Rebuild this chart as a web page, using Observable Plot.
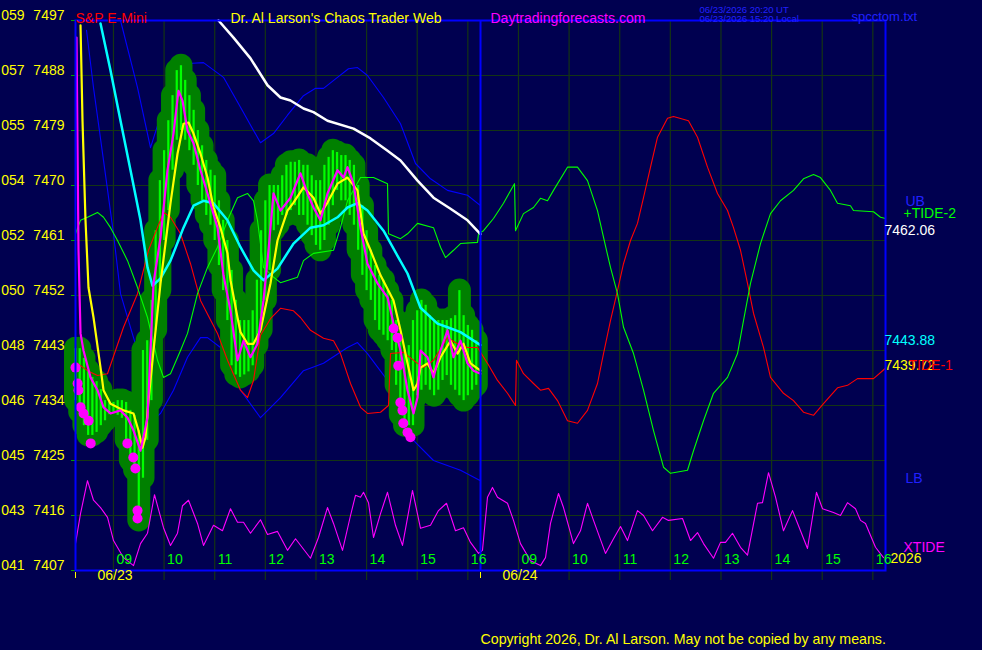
<!DOCTYPE html>
<html>
<head>
<meta charset="utf-8">
<script src="https://cdn.jsdelivr.net/npm/d3@7"></script>
<script src="https://cdn.jsdelivr.net/npm/@observablehq/plot@0.6"></script>
<style>
  html, body { margin: 0; padding: 0; background: #000050; }
  #chart svg { display: block; }
</style>
</head>
<body>
<div id="chart"></div>
<script>
// x is the 5-minute bar number from the 08:15 open of 06/23 (96 bars a day)
const openHour = 8.25, barsPerHour = 12, barsPerDay = 96, nowBar = 96

const priceTicks = [7407, 7416, 7425, 7434, 7443, 7452, 7461, 7470, 7479, 7488, 7497]
const leftCodes = ["041", "043", "045", "046", "048", "050", "052", "054", "055", "057", "059"]
const hourNums = [9, 10, 11, 12, 13, 14, 15, 16]
const hourLabels = ["09", "10", "11", "12", "13", "14", "15", "16"]
const dayLabels = ["06/23", "06/24"]

// price bars 06/23
const barHi = [7443.3,7443.3,7441.7,7439.7,7438.6,7437.9,7436.6,7434.8,7434.5,7434.5,7434.8,7434.8,7434.5,7433.2,7432.4,7429.9,
  7443.0,7444.6,7451.2,7462.6,7470.8,7475.7,7480.6,7484.7,7488.8,7489.6,7487.2,7484.7,7482.3,7479.0,7476.5,7474.1,7472.5,7471.6,
  7467.5,7464.3,7461.0,7456.1,7451.2,7447.9,7447.9,7447.9,7449.5,7454.5,7462.6,7467.5,7470.0,7470.0,7470.0,7471.6,
  7473.3,7473.8,7473.8,7474.1,7473.3,7473.3,7471.6,7470.8,7470.8,7473.3,7474.6,7475.7,7475.4,7474.9,7474.9,7474.1,7473.3,
  7470.0,7466.7,7462.6,7459.4,7456.9,7455.3,7454.5,7452.8,7451.2,7447.9,7444.6,7443.0,7443.8,
  7447.9,7449.5,7451.2,7450.4,7448.7,7447.9,7447.9,7447.9,7447.9,7448.2,7448.7,7452.8,7448.7,7447.1,7446.3,7444.6]
const barLo = [7434.8,7432.9,7430.7,7429.1,7429.1,7429.6,7430.7,7431.5,7432.5,7432.9,7432.4,7431.9,7428.3,7425.0,7423.4,7415.2,
  7422.1,7428.3,7434.8,7446.3,7452.8,7461.0,7465.9,7472.5,7477.4,7479.0,7477.4,7475.7,7473.3,7470.0,7467.5,7465.1,7463.5,7461.0,
  7456.9,7452.8,7447.9,7440.5,7439.0,7438.6,7439.0,7439.5,7440.5,7443.8,7446.3,7451.2,7456.1,7462.6,7463.5,7465.1,
  7465.1,7465.9,7466.7,7465.1,7465.1,7463.5,7461.8,7460.2,7459.4,7461.0,7463.5,7466.7,7469.2,7467.5,7467.5,7465.1,7463.5,
  7459.4,7455.3,7452.8,7451.2,7447.9,7446.3,7445.5,7444.6,7443.0,7437.3,7432.4,7430.7,7430.7,
  7430.7,7435.6,7436.5,7437.3,7436.5,7435.6,7436.5,7438.1,7438.9,7437.3,7436.5,7435.6,7434.8,7435.6,7436.5,7437.3]

// magenta signal dots
const sigBar = [0,0.5,0.7,1.2,1.9,3.1,3.6,12.3,13.7,14.2,14.7,14.7,75.4,76.3,76.5,77.0,77.5,77.7,78.7,79.4]
const sigPrice = [7440.2,7437.6,7436.5,7433.7,7432.7,7431.5,7427.8,7427.8,7425.5,7423.7,7416.8,7415.5,7446.6,7445.1,7440.5,7434.5,7433.2,7431.1,7429.6,7428.8]

// fast average (magenta)
const fastX = [0.24,0.71,1.19,1.90,3.56,5.21,6.64,8.30,10.67,12.33,13.75,15.41,17.07,17.78,18.49,20.15,21.81,23.23,24.41,25.36,
  26.55,27.97,29.63,31.29,33.66,35.08,36.74,38.40,39.82,41.48,43.14,44.56,45.75,46.93,48.59,50.96,53.33,54.99,56.41,58.07,
  59.73,62.10,63.53,64.47,65.90,67.56,69.21,71.58,73.96,75.38,77.04,78.70,80.12,81.07,81.78,83.44,84.86,86.52,88.18,89.60,
  91.26,92.92,94.34,96]
const fastY = [7494.2,7459.4,7445.8,7443.0,7438.6,7436.5,7433.7,7432.7,7433.2,7432.0,7429.9,7426.6,7432.0,7443.0,7454.0,7461.5,
  7472.5,7478.5,7485.5,7483.9,7479.0,7476.9,7472.5,7468.7,7463.1,7455.3,7449.5,7441.4,7444.6,7441.9,7444.1,7451.2,7459.4,7468.7,
  7465.9,7468.0,7472.0,7468.7,7466.4,7464.3,7468.7,7472.5,7471.3,7473.0,7470.3,7463.1,7457.2,7454.0,7451.7,7447.4,7443.0,7436.5,
  7432.7,7435.3,7443.0,7441.9,7438.6,7443.0,7446.3,7441.9,7444.6,7440.9,7439.7,7439.2]

// medium average (yellow)
const midX = [1.19,1.66,2.37,3.08,4.27,5.93,6.64,8.30,11.38,13.75,14.93,15.88,16.59,17.30,18.49,20.15,22.52,24.18,25.60,26.79,
  27.97,29.63,31.29,32.71,34.37,36.03,36.74,38.40,39.11,40.77,42.19,43.85,46.22,47.88,50.25,51.67,54.04,56.41,58.07,59.73,
  62.10,64.47,66.84,68.27,69.93,72.30,75.38,77.04,78.70,80.12,81.07,81.78,83.44,84.86,86.52,88.89,90.55,91.97,93.63,96]
const midY = [7496.2,7480.6,7464.3,7453.3,7448.4,7440.2,7436.5,7434.3,7433.2,7432.7,7429.9,7427.1,7428.8,7434.8,7443.0,7454.0,
  7467.1,7475.2,7480.1,7480.3,7478.5,7475.2,7471.3,7466.4,7463.1,7458.9,7454.5,7448.4,7446.0,7444.1,7444.1,7446.3,7454.0,7461.0,
  7465.9,7467.2,7469.7,7468.0,7465.4,7467.2,7470.3,7471.3,7469.2,7462.1,7459.4,7455.3,7451.2,7446.3,7440.9,7436.5,7437.6,7440.2,
  7440.9,7439.2,7441.9,7444.6,7442.5,7444.1,7440.9,7439.72]

// slow average (cyan)
const slowX = [5.93,8.30,10.67,13.04,15.41,17.07,18.25,20.15,22.52,25.60,27.97,30.34,32.71,36.03,39.11,42.19,44.56,47.88,51.67,
  55.70,58.79,62.10,64.47,66.84,69.21,73.01,76.33,78.70,81.78,85.81,88.18,91.26,96]
const slowY = [7496.5,7488.8,7480.6,7472.5,7464.3,7456.6,7453.6,7454.8,7457.7,7463.1,7466.7,7467.5,7467.1,7464.3,7459.9,7456.1,
  7454.5,7456.4,7460.5,7463.1,7463.5,7464.8,7466.4,7467.1,7465.9,7462.6,7458.5,7455.6,7450.0,7447.4,7446.8,7446.0,7443.88]

// trend average (white)
const trendX = [33.90,37.45,41.48,45.51,48.59,50.96,54.04,56.41,59.73,65.90,69.93,73.96,77.04,81.07,84.86,88.89,92.92,96]
const trendY = [7497.0,7494.2,7490.8,7486.4,7484.4,7483.9,7482.6,7482.0,7480.6,7479.3,7477.7,7475.7,7474.1,7470.8,7468.0,7466.2,7464.3,7462.06]

// upper and lower bands (blue)
const ubX = [10.67,14.70,17.78,21.33,24.89,27.73,30.34,35.08,39.11,43.85,46.93,50.25,54.04,56.89,58.79,62.10,64.71,66.84,69.21,
  73.01,77.04,80.59,84.15,88.18,92.92,96]
const ubY = [7497.0,7486.0,7476.2,7483.9,7488.5,7490.0,7490.1,7487.7,7482.8,7477.0,7478.5,7481.5,7484.7,7485.9,7485.9,7487.7,
  7489.1,7489.3,7488.0,7484.4,7480.1,7473.6,7471.1,7469.2,7468.4,7466.7]
const lbX = [2.61,4.27,6.64,9.01,10.67,13.75,15.41,18.25,20.15,23.23,26.55,29.63,31.29,34.37,39.11,43.85,48.59,54.04,58.79,
  64.47,66.84,69.21,73.96,80.12,84.86,91.26,96]
const lbY = [7495.4,7486.0,7474.1,7462.1,7452.3,7445.1,7441.4,7431.5,7432.7,7436.5,7441.9,7445.1,7445.1,7443.5,7436.5,7432.0,
  7435.3,7439.7,7440.9,7443.5,7444.3,7442.5,7438.1,7428.3,7425.0,7423.4,7421.7]

// +TIDE-2 (green)
const tide2X = [0,1.19,2.84,5.21,6.64,8.30,9.96,12.33,14.70,17.07,19.44,20.86,22.52,24.89,26.55,28.92,31.29,33.66,36.03,38.40,
  40.77,42.19,43.14,44.56,46.93,48.59,52.62,54.04,56.41,61.16,62.81,64.47,67.56,70.64,73.96,74.19,77.04,78.70,81.07,84.86,
  86.52,87.70,89.60,91.26,95.29,95.53,96.71,99.08,101.45,103.82,104.06,104.30,106.19,108.56,110.22,111.88,113.30,116.62,118.99,121.36,
  123.73,125.16,126.81,128.47,129.90,132.27,134.64,137.01,139.38,141.04,145.07,146.49,148.86,151.23,154.55,156.92,158.34,160.0,162.37,164.74,
  167.11,170.19,172.56,174.93,176.59,178.96,180.62,183.70,184.41,189.16,190.82,192]
const tide2Y = [7462.1,7464.3,7464.8,7465.6,7464.8,7463.1,7461.0,7457.7,7453.3,7448.4,7441.4,7438.6,7439.2,7443.0,7445.8,7452.3,
  7456.6,7459.9,7464.3,7468.0,7468.7,7467.5,7464.3,7456.6,7455.0,7454.1,7455.0,7457.7,7458.9,7459.4,7463.1,7467.5,7471.3,7471.3,
  7470.3,7462.1,7461.3,7462.1,7463.8,7463.1,7459.9,7458.2,7459.4,7460.5,7460.7,7462.1,7462.6,7464.6,7467.1,7470.0,7470.3,7462.6,
  7465.4,7466.4,7467.9,7467.5,7469.2,7473.0,7473.0,7470.8,7465.9,7461.5,7456.6,7452.3,7446.8,7442.5,7436.5,7429.9,7423.9,7422.9,
  7423.4,7426.6,7431.5,7436.0,7438.6,7442.5,7447.9,7454.0,7460.5,7465.4,7467.5,7469.2,7471.1,7471.8,7471.3,7469.2,7467.1,7466.7,
  7465.9,7465.7,7464.8,7464.6]

// TIDE-1 (red)
const tide1X = [0.47,2.84,5.21,7.59,11.38,14.70,17.30,20.86,22.52,24.89,27.26,29.63,33.66,36.03,39.11,40.77,42.19,43.85,46.22,48.59,
  51.67,53.33,55.70,58.79,61.16,62.81,65.19,67.56,69.21,72.30,74.19,74.67,77.75,81.07,82.49,84.86,88.18,90.55,92.92,95.29,
  97.66,100.03,102.40,104.30,104.53,106.19,108.56,110.22,112.12,114.25,116.62,118.99,121.36,123.73,125.16,126.81,128.47,129.90,131.56,133.21,
  134.64,136.30,137.96,140.33,141.75,145.30,147.44,149.81,152.18,154.55,155.97,157.63,159.29,160.71,163.08,164.74,167.82,170.19,172.56,174.93,
  177.30,180.62,182.99,185.36,189.16,192]
const tide1Y = [7440.9,7439.7,7438.9,7439.2,7446.8,7452.3,7459.4,7465.6,7464.8,7462.1,7457.2,7451.2,7445.8,7441.4,7436.5,7435.3,
  7438.1,7445.5,7448.2,7449.9,7449.5,7448.4,7446.3,7445.0,7444.6,7442.5,7437.6,7433.7,7432.7,7432.9,7434.0,7442.5,7442.7,7440.9,
  7440.2,7441.4,7445.1,7444.1,7443.5,7443.5,7440.9,7438.1,7436.0,7434.0,7441.4,7439.2,7437.6,7436.5,7436.8,7434.8,7431.5,7431.1,
  7433.2,7437.6,7442.5,7447.9,7452.8,7457.2,7461.0,7463.8,7468.0,7473.0,7477.9,7481.0,7481.3,7480.6,7477.9,7473.0,7468.7,7465.9,
  7463.1,7459.4,7454.0,7449.1,7443.5,7438.6,7436.0,7434.8,7432.9,7432.4,7434.3,7436.9,7437.3,7438.4,7438.4,7440.1]

// XTIDE (magenta, drawn in the bottom strip)
const xtX = [0,1.19,2.84,4.27,5.93,7.59,9.01,11.38,13.75,15.41,17.07,18.73,20.86,22.52,24.18,25.36,26.79,28.92,30.34,32.71,
  34.84,36.74,38.40,39.82,41.48,43.85,45.51,47.88,50.25,52.15,55.70,57.60,59.73,61.16,63.29,65.19,66.37,67.56,68.27,69.45,
  70.64,72.30,73.96,75.85,77.51,79.88,81.78,84.15,86.04,87.94,90.07,91.97,93.63,95.53,96.47,97.66,98.84,100.03,102.40,103.82,
  105.48,107.85,110.22,111.41,112.59,114.49,115.67,118.04,119.70,121.36,122.79,125.63,127.53,129.19,130.84,133.21,134.64,136.77,139.14,140.56,
  143.88,145.78,147.44,148.86,151.23,152.89,154.07,155.73,157.63,159.29,161.66,162.84,164.27,165.93,167.82,169.96,171.85,173.51,175.64,177.07,
  179.67,181.33,182.99,184.89,186.07,187.26,189.63,191.53]
const xtY = [7411.4,7416.3,7421.7,7418.5,7417.3,7415.7,7411.9,7409.1,7407.8,7411.4,7413.1,7419.4,7414.0,7411.1,7413.1,7417.6,
  7418.5,7414.7,7411.1,7414.4,7413.5,7417.1,7414.9,7414.9,7413.1,7415.3,7412.9,7413.4,7410.3,7412.2,7409.0,7412.4,7417.3,7414.7,
  7410.3,7416.0,7419.3,7419.0,7419.8,7418.1,7412.4,7416.3,7419.8,7414.4,7411.1,7420.1,7413.9,7414.4,7416.8,7418.0,7413.5,7414.0,
  7411.6,7409.8,7410.3,7419.0,7420.6,7419.0,7418.0,7415.2,7411.4,7408.6,7407.8,7409.1,7414.7,7419.6,7417.3,7411.4,7413.5,7418.0,
  7415.2,7409.8,7412.2,7414.2,7411.9,7416.8,7416.0,7413.5,7415.7,7415.2,7415.5,7411.9,7413.2,7411.4,7409.0,7411.6,7411.6,7413.1,
  7410.8,7409.5,7418.0,7418.1,7423.0,7419.0,7413.5,7416.8,7413.5,7410.6,7419.8,7417.1,7416.5,7416.0,7418.1,7417.1,7415.2,7414.7,
  7410.8,7409.1]

const pts = (xs, ys) => xs.map((x, i) => ({x, y: ys[i]}))
const bars = barHi.map((hi, i) => ({i, hi, lo: barLo[i]}))
const sigs = pts(sigBar, sigPrice)
const hourTicks = dayLabels.flatMap((d, di) =>
  hourNums.map((h, hi) => ({x: (h - openHour) * barsPerHour + di * barsPerDay, label: hourLabels[hi]})))
const dayTicks = dayLabels.map((label, di) => ({x: di * barsPerDay, label}))
const last = a => a[a.length - 1]

const gridColor = "#143414"
const blue = "#0000ff"

let chart = Plot.plot({
  width: 982,
  height: 650,
  marginLeft: 75,
  marginRight: 97,
  marginTop: 20,
  marginBottom: 80,
  x: {domain: [0, 2 * barsPerDay], axis: null},
  y: {domain: [priceTicks[0], last(priceTicks)], axis: null},
  style: {background: "#000050", fontFamily: "Liberation Sans, Arial, sans-serif", fontSize: "14px", overflow: "visible"},
  marks: [
    // grid
    Plot.ruleY(priceTicks.slice(1, -1), {stroke: gridColor, strokeWidth: 1.2}),
    Plot.ruleX(hourTicks, {x: "x", stroke: gridColor, strokeWidth: 1.2, insetBottom: -10}),
    Plot.axisY(priceTicks, {tickSize: 4, stroke: "#00a000", tickFormat: () => "", label: null}),

    // bands
    Plot.line(pts(ubX, ubY), {x: "x", y: "y", stroke: blue, strokeWidth: 1.1}),
    Plot.line(pts(lbX, lbY), {x: "x", y: "y", stroke: blue, strokeWidth: 1.1}),

    // price bars: dark green halo, bright green bar
    Plot.ruleX(bars, {x: "i", y1: "lo", y2: "hi", stroke: "#008000", strokeWidth: 23, strokeLinecap: "round"}),
    Plot.ruleX(bars, {x: "i", y1: "lo", y2: "hi", stroke: "#00ff00", strokeWidth: 2.2}),

    // tides
    Plot.line(pts(tide1X, tide1Y), {x: "x", y: "y", stroke: "#ff0000", strokeWidth: 1.1}),
    Plot.line(pts(tide2X, tide2Y), {x: "x", y: "y", stroke: "#00ff00", strokeWidth: 1.1}),
    Plot.line(pts(xtX, xtY), {x: "x", y: "y", stroke: "#ff00ff", strokeWidth: 1.1}),

    // averages
    Plot.line(pts(trendX, trendY), {x: "x", y: "y", stroke: "#ffffff", strokeWidth: 2.5}),
    Plot.line(pts(slowX, slowY), {x: "x", y: "y", stroke: "#00ffff", strokeWidth: 2.5}),
    Plot.line(pts(midX, midY), {x: "x", y: "y", stroke: "#ffff00", strokeWidth: 2.2}),
    Plot.line(pts(fastX, fastY), {x: "x", y: "y", stroke: "#ff00ff", strokeWidth: 2.2}),
    Plot.dot(sigs, {x: "x", y: "y", r: 5, fill: "#ff00ff"}),

    // now line and frame
    Plot.ruleX([nowBar], {stroke: blue, strokeWidth: 2}),
    Plot.frame({stroke: blue, strokeWidth: 2}),

    // left labels
    Plot.text(priceTicks, {y: d => d, text: d => String(d), frameAnchor: "left", textAnchor: "end", dx: -11, dy: -5, fill: "#ffff00", fontSize: 14}),
    Plot.text(priceTicks, {y: d => d, text: (d, i) => leftCodes[i], frameAnchor: "left", textAnchor: "end", dx: -51, dy: -5, fill: "#ffff00", fontSize: 14}),

    // bottom labels
    Plot.text(hourTicks, {x: "x", text: "label", frameAnchor: "bottom", textAnchor: "start", dx: 3, dy: -7, fill: "#00ff00", fontSize: 14}),
    Plot.text(dayTicks, {x: "x", text: "label", frameAnchor: "bottom", textAnchor: "start", dx: 22, dy: 9, fill: "#ffff00", fontSize: 14}),
    Plot.ruleX(dayTicks, {x: "x", stroke: "#ffff00", strokeWidth: 1, insetTop: 552, insetBottom: -8}),
    Plot.text(["2026"], {frameAnchor: "bottom-right", textAnchor: "start", dx: 5, dy: -8, fill: "#ffff00", fontSize: 14}),

    // right labels
    Plot.text([last(ubY)], {y: d => d, text: () => "UB", frameAnchor: "right", textAnchor: "start", dx: 20, dy: -4, fill: "#2020ff", fontSize: 14}),
    Plot.text([last(tide2Y)], {y: d => d, text: () => "+TIDE-2", frameAnchor: "right", textAnchor: "start", dx: 18, dy: -5, fill: "#00ff00", fontSize: 14}),
    Plot.text([last(trendY)], {y: d => d, text: d => d3.format(".2f")(d), frameAnchor: "right", textAnchor: "start", dx: -1, dy: -4, fill: "#ffffff", fontSize: 14}),
    Plot.text([last(slowY)], {y: d => d, text: d => d3.format(".2f")(d), frameAnchor: "right", textAnchor: "start", dx: -1, dy: -5, fill: "#00ffff", fontSize: 14}),
    Plot.text([last(midY)], {y: d => d, text: d => d3.format(".2f")(d), frameAnchor: "right", textAnchor: "start", dx: -1, dy: -5, fill: "#ffff00", fontSize: 14}),
    Plot.text([last(tide1Y)], {y: d => d, text: () => "TIDE-1", frameAnchor: "right", textAnchor: "start", dx: 23, dy: -3, fill: "#ff0000", fontSize: 14}),
    Plot.text([last(lbY)], {y: d => d, text: () => "LB", frameAnchor: "right", textAnchor: "start", dx: 20, dy: -2, fill: "#2020ff", fontSize: 14}),
    Plot.text([last(xtY)], {y: d => d, text: () => "XTIDE", frameAnchor: "right", textAnchor: "start", dx: 18, dy: -10, fill: "#ff00ff", fontSize: 14}),

    // header and footer
    Plot.text(["S&P E-Mini"], {frameAnchor: "top-left", textAnchor: "start", dx: 0, dy: -7, fill: "#ff0000", fontSize: 14}),
    Plot.text(["Dr. Al Larson's Chaos Trader Web"], {frameAnchor: "top-left", textAnchor: "start", dx: 155, dy: -7, fill: "#ffff00", fontSize: 14}),
    Plot.text(["Daytradingforecasts.com"], {frameAnchor: "top-left", textAnchor: "start", dx: 415, dy: -7, fill: "#ff00ff", fontSize: 14}),
    Plot.text(["06/23/2026 20:20 UT"], {frameAnchor: "top-left", textAnchor: "start", dx: 624, dy: -14.5, fill: "#2020ff", fontSize: 9.5}),
    Plot.text(["06/23/2026 15:20 Local"], {frameAnchor: "top-left", textAnchor: "start", dx: 624, dy: -5, fill: "#2020ff", fontSize: 9.5}),
    Plot.text(["spcctom.txt"], {frameAnchor: "top-left", textAnchor: "start", dx: 776, dy: -8.5, fill: "#2020ff", fontSize: 13}),
    Plot.text(["Copyright 2026, Dr. Al Larson. May not be copied by any means."], {frameAnchor: "bottom-left", textAnchor: "start", dx: 405, dy: 73, fill: "#ffff00", fontSize: 14.2})
  ]
})

d3.select('#chart').append(() => chart)
</script>
</body>
</html>
